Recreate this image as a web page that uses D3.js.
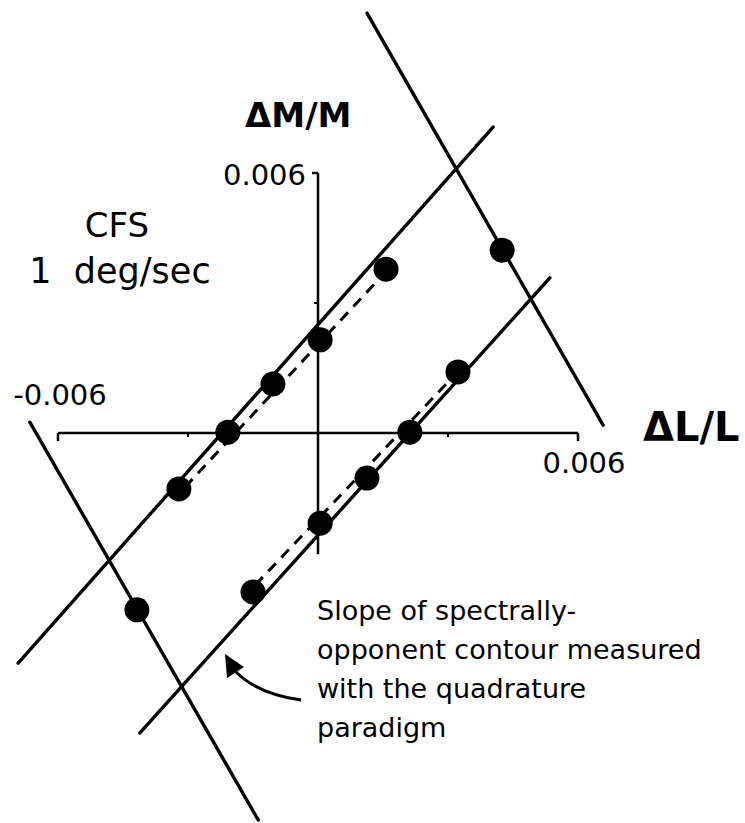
<!DOCTYPE html>
<html>
<head>
<meta charset="utf-8">
<script src="https://cdn.jsdelivr.net/npm/d3@7"></script>
<style>
  html, body { margin: 0; padding: 0; background: #fff; }
  svg { display: block; }
  text { font-family: "DejaVu Sans", sans-serif; fill: #000; }
</style>
</head>
<body>
<svg id="chart" width="745" height="823"></svg>
<script>
// ---- data (units: ΔL/L, ΔM/M) ----
const upperPoints = [
  [-0.00321, -0.00129], [-0.00208, 0.00002], [-0.00104, 0.00113],
  [0.00005, 0.00215], [0.00157, 0.00378]
];
const lowerPoints = [
  [-0.00150, -0.00367], [0.00005, -0.00208], [0.00113, -0.00104],
  [0.00212, 0.00002], [0.00323, 0.00141]
];
const perpPoints = [[-0.00418, -0.00408], [0.00425, 0.00422]];

const solidLines = [
  [[-0.00692, -0.00531], [0.00404, 0.00706]],   // upper contour
  [[-0.00411, -0.00692], [0.00535, 0.00358]],   // lower contour
  [[0.00113, 0.00969], [0.00658, 0.00018]],     // upper-right orthogonal
  [[-0.00665, 0.00025], [-0.00138, -0.00893]]   // lower-left orthogonal
];
const dashedLines = [
  [[-0.00307, -0.00125], [0.00150, 0.00365]],
  [[-0.00145, -0.00351], [0.00309, 0.00127]]
];

const xAxisExtent = [-0.006, 0.006];
const yAxisExtent = [-0.0028, 0.006];
const xMinorTicks = [-0.003, 0.003];
const yMinorTicks = [0.003];
const xLabels = ["-0.006", "0.006"];
const yLabel = "0.006";

// ---- scales ----
const x = d3.scaleLinear().domain([-0.006, 0.006]).range([58, 578]);
const y = d3.scaleLinear().domain([-0.006, 0.006]).range([693, 173]);

const svg = d3.select("#chart");
svg.append("rect").attr("width", 745).attr("height", 823).attr("fill", "#fff");

// ---- axes ----
const ax = svg.append("g").attr("stroke", "#000").attr("stroke-width", 2.5).attr("fill", "none");
ax.append("line").attr("x1", x(xAxisExtent[0])).attr("x2", x(xAxisExtent[1]))
  .attr("y1", y(0)).attr("y2", y(0));
ax.append("line").attr("x1", x(0)).attr("x2", x(0))
  .attr("y1", y(yAxisExtent[0])).attr("y2", y(yAxisExtent[1]));
xAxisExtent.forEach(v => {
  ax.append("line").attr("x1", x(v)).attr("x2", x(v)).attr("y1", y(0)).attr("y2", y(0) + 8);
});
xMinorTicks.forEach(v => {
  ax.append("line").attr("x1", x(v)).attr("x2", x(v)).attr("y1", y(0)).attr("y2", y(0) + 4)
    .attr("stroke-width", 2);
});
ax.append("line").attr("x1", x(0) - 6).attr("x2", x(0))
  .attr("y1", y(yAxisExtent[1])).attr("y2", y(yAxisExtent[1]));
yMinorTicks.forEach(v => {
  ax.append("line").attr("x1", x(0) - 4).attr("x2", x(0)).attr("y1", y(v)).attr("y2", y(v))
    .attr("stroke-width", 2);
});

// ---- lines ----
const line = d3.line().x(d => x(d[0])).y(d => y(d[1]));
svg.append("g").selectAll("path").data(solidLines).join("path")
  .attr("d", line).attr("fill", "none").attr("stroke", "#000")
  .attr("stroke-width", 3.4).attr("stroke-linecap", "round");
svg.append("g").selectAll("path").data(dashedLines).join("path")
  .attr("d", line).attr("fill", "none").attr("stroke", "#000")
  .attr("stroke-width", 3).attr("stroke-dasharray", "11,8");

// ---- points ----
const allPts = upperPoints.concat(lowerPoints, perpPoints);
svg.append("g").selectAll("circle").data(allPts).join("circle")
  .attr("cx", d => x(d[0])).attr("cy", d => y(d[1])).attr("r", 12.5).attr("fill", "#000");

// ---- text ----
svg.append("text").attr("x", 245).attr("y", 127).attr("font-size", 34)
  .attr("font-weight", "bold").text("ΔM/M");
svg.append("text").attr("x", 643).attr("y", 441).attr("font-size", 40)
  .attr("font-weight", "bold").text("ΔL/L");
svg.append("text").attr("x", x(0) - 12).attr("y", y(yAxisExtent[1]) + 12)
  .attr("text-anchor", "end").attr("font-size", 29).text(yLabel);
svg.append("text").attr("x", x(xAxisExtent[0]) + 2).attr("y", y(0) - 28)
  .attr("text-anchor", "middle").attr("font-size", 29).text(xLabels[0]);
svg.append("text").attr("x", x(xAxisExtent[1]) + 6).attr("y", y(0) + 40)
  .attr("text-anchor", "middle").attr("font-size", 29).text(xLabels[1]);

svg.append("text").attr("x", 117).attr("y", 237).attr("text-anchor", "middle")
  .attr("font-size", 34).text("CFS");
svg.append("text").attr("x", 120).attr("y", 283).attr("text-anchor", "middle")
  .attr("font-size", 35).attr("xml:space", "preserve").style("white-space", "pre").text("1  deg/sec");

const note = ["Slope of spectrally-", "opponent contour measured", "with the quadrature", "paradigm"];
svg.append("g").selectAll("text").data(note).join("text")
  .attr("x", 317).attr("y", (d, i) => 620 + i * 39).attr("font-size", 27).text(d => d);

// ---- curved arrow ----
svg.append("path").attr("d", "M301,700 Q258,694 236,672")
  .attr("fill", "none").attr("stroke", "#000").attr("stroke-width", 3);
svg.append("path").attr("d", "M225,654 L227,678 L244,667 Z").attr("fill", "#000");
</script>
</body>
</html>
